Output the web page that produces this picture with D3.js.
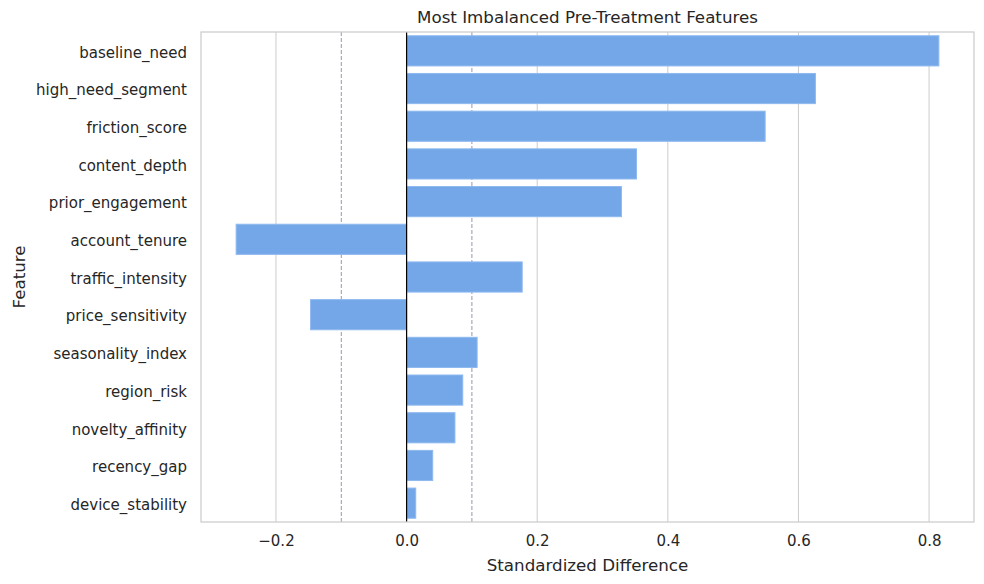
<!DOCTYPE html>
<html>
<head>
<meta charset="utf-8">
<script src="https://cdn.jsdelivr.net/npm/d3@7"></script>
<style>
  body { margin: 0; background: #fff; }
  svg text { font-family: "DejaVu Sans", sans-serif; fill: #262626; }
</style>
</head>
<body>
<svg width="984" height="584"></svg>
<script>
(function () {
  "use strict";
  const features = [
    "baseline_need", "high_need_segment", "friction_score", "content_depth",
    "prior_engagement", "account_tenure", "traffic_intensity", "price_sensitivity",
    "seasonality_index", "region_risk", "novelty_affinity", "recency_gap", "device_stability"
  ];
  const stdDiff = [
    0.815, 0.626, 0.549, 0.352, 0.329, -0.261, 0.177, -0.147,
    0.108, 0.086, 0.074, 0.040, 0.014
  ];
  const xTicks = [-0.2, 0.0, 0.2, 0.4, 0.6, 0.8];
  const thresholds = [-0.1, 0.1];

  const svg = d3.select("svg");
  const margin = { top: 32, right: 10, bottom: 62, left: 201 };
  const width = +svg.attr("width");
  const height = +svg.attr("height");
  const innerWidth = width - margin.left - margin.right;
  const innerHeight = height - margin.top - margin.bottom;

  const data = features.map((f, i) => ({ feature: f, value: stdDiff[i] }));

  const lo = d3.min(stdDiff), hi = d3.max(stdDiff);
  const pad = (hi - lo) * 0.05;
  const xScale = d3.scaleLinear().domain([lo - pad, hi + pad]).range([0, innerWidth]);
  const yScale = d3.scaleBand().domain(features).range([0, innerHeight]).paddingInner(0.2).paddingOuter(0.1);

  const g = svg.append("g").attr("transform", `translate(${margin.left},${margin.top})`);

  // vertical grid
  g.append("g")
    .selectAll("line")
    .data(xTicks)
    .enter()
    .append("line")
    .attr("x1", (d) => xScale(d))
    .attr("x2", (d) => xScale(d))
    .attr("y1", 0)
    .attr("y2", innerHeight)
    .attr("stroke", "#cccccc")
    .attr("stroke-width", 1);

  // threshold lines
  g.append("g")
    .selectAll("line")
    .data(thresholds)
    .enter()
    .append("line")
    .attr("x1", (d) => xScale(d))
    .attr("x2", (d) => xScale(d))
    .attr("y1", 0)
    .attr("y2", innerHeight)
    .attr("stroke", "#9598b2")
    .attr("stroke-width", 1)
    .attr("stroke-dasharray", "4,2");

  // bars
  g.selectAll("rect.bar")
    .data(data)
    .enter()
    .append("rect")
    .attr("class", "bar")
    .attr("x", (d) => xScale(Math.min(0, d.value)))
    .attr("y", (d) => yScale(d.feature))
    .attr("width", (d) => Math.abs(xScale(d.value) - xScale(0)))
    .attr("height", yScale.bandwidth())
    .attr("fill", "#73a7e8")
    .attr("stroke", "#8fb9ef")
    .attr("stroke-width", 1);

  // zero line
  g.append("line")
    .attr("x1", xScale(0))
    .attr("x2", xScale(0))
    .attr("y1", 0)
    .attr("y2", innerHeight)
    .attr("stroke", "#000")
    .attr("stroke-width", 1.2);

  // frame
  g.append("rect")
    .attr("width", innerWidth)
    .attr("height", innerHeight)
    .attr("fill", "none")
    .attr("stroke", "#cccccc")
    .attr("stroke-width", 1.25);

  // x axis
  const xAxisG = g.append("g")
    .attr("transform", `translate(0,${innerHeight})`)
    .call(d3.axisBottom(xScale).tickValues(xTicks).tickSize(0).tickPadding(13)
      .tickFormat((d) => d3.format(".1f")(d).replace("-", "\u2212")));
  xAxisG.select(".domain").remove();
  xAxisG.selectAll("text").attr("font-size", 15).attr("font-family", "DejaVu Sans");

  // y axis
  const yAxisG = g.append("g")
    .call(d3.axisLeft(yScale).tickSize(0).tickPadding(14));
  yAxisG.select(".domain").remove();
  yAxisG.selectAll("text").attr("font-size", 15).attr("font-family", "DejaVu Sans")
    .attr("dy", "0.45em");

  g.append("text")
    .attr("x", innerWidth / 2)
    .attr("y", innerHeight + 49)
    .attr("text-anchor", "middle")
    .attr("font-size", 16.7)
    .text("Standardized Difference");

  g.append("text")
    .attr("transform", `translate(${-176},${innerHeight / 2}) rotate(-90)`)
    .attr("text-anchor", "middle")
    .attr("font-size", 16.7)
    .text("Feature");

  g.append("text")
    .attr("x", innerWidth / 2)
    .attr("y", -9)
    .attr("text-anchor", "middle")
    .attr("font-size", 16.7)
    .text("Most Imbalanced Pre-Treatment Features");
})();
</script>
</body>
</html>
